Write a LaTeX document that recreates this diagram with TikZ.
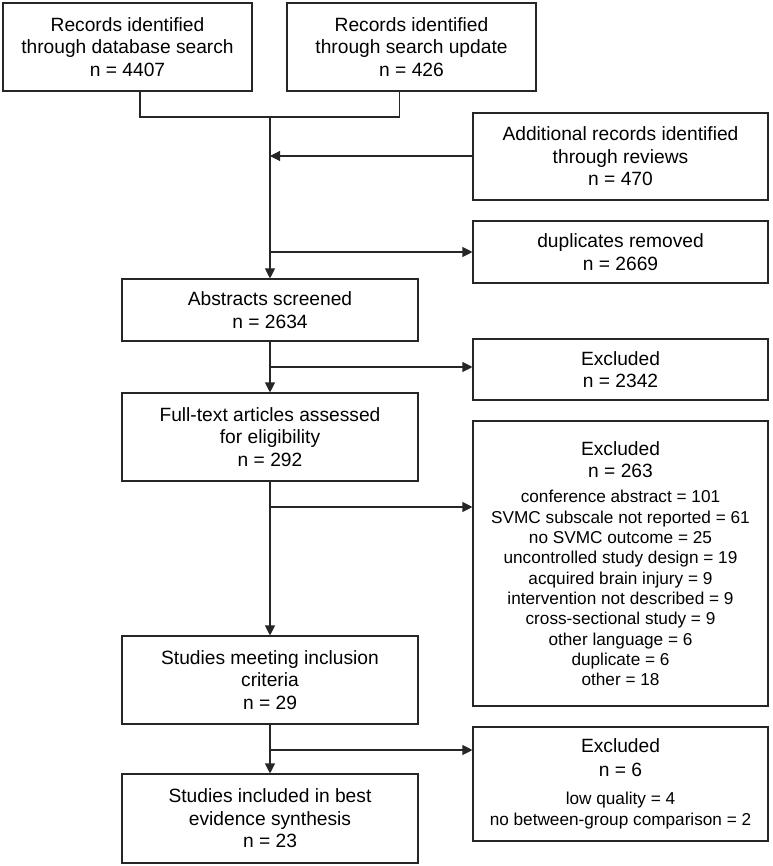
\documentclass[tikz,border=0pt]{standalone}
\usepackage{fontspec}
\setmainfont{Liberation Sans}
\usetikzlibrary{arrows.meta}
\tikzset{
  box/.style={draw=black!85, line width=1.1pt, fill=white, align=center, inner sep=0pt,
    font=\fontsize{19.2}{22.5}\selectfont, text=black},
  conn/.style={draw=black!85, line width=1.1pt},
  arr/.style={conn, -{Triangle[length=10pt,width=10pt]}}
}
\newcommand{\bx}[5]{\node[box, minimum width=#3-#1, minimum height=#4-#2] at ({(#1+#3)/2},{(#2+#4)/2}) (#5)}
\begin{document}
\begin{tikzpicture}[x=1pt,y=-1pt]
\useasboundingbox (0,0) rectangle (772,866);
\bx{3}{3}{252}{91}{db} {Records identified\\through database search\\n = 4407};
\bx{287}{3}{536}{91}{upd} {Records identified\\through search update\\n = 426};
\bx{473}{113}{768}{200}{rev} {Additional records identified\\through reviews\\n = 470};
\bx{473}{221}{768}{283}{dup} {duplicates removed\\n = 2669};
\bx{122}{279}{418}{341}{abs} {Abstracts screened\\n = 2634};
\bx{473}{339}{768}{400}{exa} {Excluded\\n = 2342};
\bx{122}{393}{418}{481}{full} {Full-text articles assessed\\for eligibility\\n = 292};
\bx{473}{421}{768}{706}{exb} {\parbox{290pt}{\centering
  \fontsize{19.2}{22.5}\selectfont Excluded\\n = 263\par\vspace{5pt}
  \fontsize{17.2}{20.3}\selectfont conference abstract = 101\\SVMC subscale not reported = 61\\no SVMC outcome = 25\\uncontrolled study design = 19\\acquired brain injury = 9\\intervention not described = 9\\cross-sectional study = 9\\other language = 6\\duplicate = 6\\other = 18\par}};
\bx{122}{636}{418}{724}{incl} {Studies meeting inclusion\\criteria\\n = 29};
\bx{473}{727}{768}{841}{exc} {\parbox{290pt}{\centering
  \fontsize{19.2}{23.5}\selectfont Excluded\\n = 6\par\vspace{7pt}
  \fontsize{17.2}{21}\selectfont low quality = 4\\no between-group comparison = 2\par}};
\bx{122}{774}{418}{863}{syn} {Studies included in best\\evidence synthesis\\n = 23};
% junctions
\coordinate (m) at (270,117);
\coordinate (j1) at (270,252);
\coordinate (j2) at (270,367);
\coordinate (j3) at (270,507);
\coordinate (j4) at (270,750);
\draw[conn] (db.south -| 140,0) |- (m);
\draw[conn] (upd.south -| 399.5,0) |- (m);
\draw[arr] (m) -- (abs.north);
\draw[arr] (rev.west |- 0,156) -- (270,156);
\draw[arr] (j1) -- (dup.west |- j1);
\draw[arr] (abs.south) -- (full.north);
\draw[arr] (j2) -- (exa.west |- j2);
\draw[arr] (full.south) -- (incl.north);
\draw[arr] (j3) -- (exb.west |- j3);
\draw[arr] (incl.south) -- (syn.north);
\draw[arr] (j4) -- (exc.west |- j4);
\end{tikzpicture}
\end{document}
